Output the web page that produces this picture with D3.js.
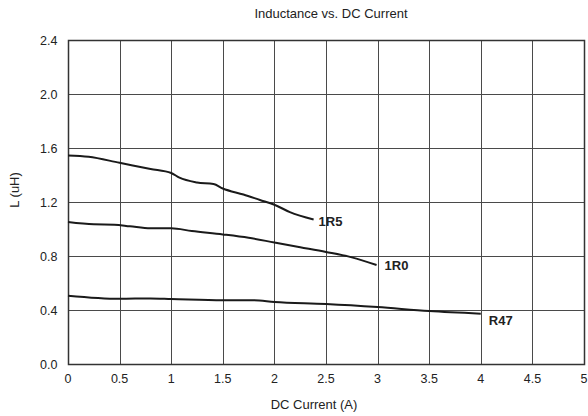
<!DOCTYPE html>
<html>
<head>
<meta charset="utf-8">
<style>
body { margin: 0; background: #fff; }
text { font-family: "Liberation Sans", Arial, sans-serif; fill: #222; }
.grid line { stroke: #4a4a4a; stroke-width: 1; }
.curve { fill: none; stroke: #1a1a1a; stroke-width: 2; }
.lbl { font-weight: bold; font-size: 13px; }
</style>
</head>
<body>
<svg width="588" height="416"></svg>
<script src="https://d3js.org/d3.v7.min.js"></script>
<script>

var xTicks = [0, 0.5, 1, 1.5, 2, 2.5, 3, 3.5, 4, 4.5, 5];
var yTicks = [0.0, 0.4, 0.8, 1.2, 1.6, 2.0, 2.4];

// series: [current, inductance]
var r1R5 = [[0, 1.545], [0.2, 1.535], [0.5, 1.49], [0.8, 1.445], [1.0, 1.415], [1.08, 1.38],
            [1.25, 1.345], [1.41, 1.333], [1.5, 1.30], [1.7, 1.255], [1.86, 1.215],
            [2.0, 1.18], [2.15, 1.125], [2.38, 1.07]];
var r1R0 = [[0, 1.052], [0.25, 1.035], [0.45, 1.032], [0.6, 1.02], [0.8, 1.005], [1.0, 1.005],
            [1.2, 0.985], [1.5, 0.96], [1.75, 0.935], [2.0, 0.90], [2.25, 0.865],
            [2.5, 0.83], [2.75, 0.79], [2.99, 0.733]];
var rR47 = [[0, 0.506], [0.5, 0.483], [0.8, 0.486], [1.0, 0.482], [1.5, 0.472], [1.8, 0.472],
            [2.0, 0.46], [2.5, 0.445], [3.0, 0.422], [3.5, 0.392], [4.0, 0.373]];

var series = [
  { name: "1R5", pts: r1R5 },
  { name: "1R0", pts: r1R0 },
  { name: "R47", pts: rR47 }
];

// label nudges from the end of each curve, in pixels
var labelShift = { "1R5": [5, 6], "1R0": [8, 5], "R47": [8, 11] };

var svg = d3.select("svg"),
    pLeft = 68, pRight = 584, pTop = 40, pBottom = 364;

var x = d3.scaleLinear().domain([0, 5]).range([pLeft, pRight]);
var y = d3.scaleLinear().domain([0, 2.4]).range([pBottom, pTop]);

// grid
var grid = svg.append("g").attr("class", "grid");
grid.selectAll("line.v").data(xTicks).enter().append("line")
    .attr("x1", function(d) { return Math.round(x(d)) + 0.5; })
    .attr("x2", function(d) { return Math.round(x(d)) + 0.5; })
    .attr("y1", pTop).attr("y2", pBottom);
grid.selectAll("line.h").data(yTicks).enter().append("line")
    .attr("y1", function(d) { return Math.round(y(d)) + 0.5; })
    .attr("y2", function(d) { return Math.round(y(d)) + 0.5; })
    .attr("x1", pLeft).attr("x2", pRight);

svg.append("rect")
    .attr("x", pLeft + 0.5).attr("y", pTop + 0.5)
    .attr("width", pRight - pLeft).attr("height", pBottom - pTop)
    .attr("fill", "none").attr("stroke", "#333").attr("stroke-width", 1.5);

// tick labels
svg.selectAll("text.xt").data(xTicks).enter().append("text")
    .attr("x", function(d) { return x(d); })
    .attr("y", pBottom + 19)
    .attr("text-anchor", "middle")
    .style("font-size", "12.5px")
    .text(function(d) { return d; });

svg.selectAll("text.yt").data(yTicks).enter().append("text")
    .attr("x", pLeft - 10.5)
    .attr("y", function(d) { return y(d) + 5; })
    .attr("text-anchor", "end")
    .style("font-size", "12.5px")
    .text(function(d) { return d.toFixed(1); });

// curves
var line = d3.line()
    .x(function(d) { return x(d[0]); })
    .y(function(d) { return y(d[1]); })
    .curve(d3.curveMonotoneX);

svg.selectAll("path.curve").data(series).enter().append("path")
    .attr("class", "curve")
    .attr("d", function(d) { return line(d.pts); });

svg.selectAll("text.lbl").data(series).enter().append("text")
    .attr("class", "lbl")
    .attr("x", function(d) { return x(d.pts[d.pts.length - 1][0]) + labelShift[d.name][0]; })
    .attr("y", function(d) { return y(d.pts[d.pts.length - 1][1]) + labelShift[d.name][1]; })
    .text(function(d) { return d.name; });

// titles
svg.append("text")
    .attr("x", (pLeft + pRight) / 2 + 5).attr("y", 18)
    .attr("text-anchor", "middle")
    .style("font-size", "13px")
    .text("Inductance vs. DC Current");

svg.append("text")
    .attr("x", 314).attr("y", 409)
    .attr("text-anchor", "middle")
    .style("font-size", "13px")
    .text("DC Current (A)");

svg.append("text")
    .attr("transform", "translate(19,190) rotate(-90)")
    .attr("text-anchor", "middle")
    .style("font-size", "13px")
    .text("L (uH)");

</script>
</body>
</html>
